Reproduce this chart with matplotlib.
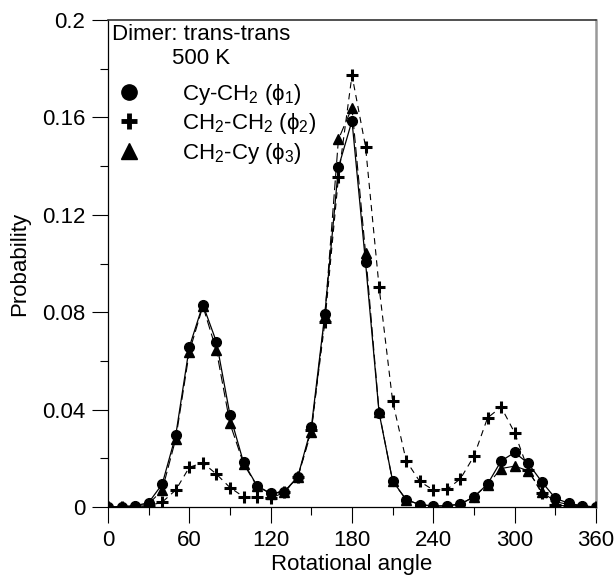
import numpy as np
import matplotlib
matplotlib.use("Agg")
import matplotlib.pyplot as plt
from matplotlib.lines import Line2D
from matplotlib.ticker import MultipleLocator

plt.rcParams['font.family'] = ['Liberation Sans', 'DejaVu Sans']
plt.rcParams['mathtext.fontset'] = 'custom'
plt.rcParams['mathtext.rm'] = 'Liberation Sans'
plt.rcParams['mathtext.it'] = 'Liberation Sans:italic'
plt.rcParams['lines.scale_dashes'] = False

# rotational angle (deg)
angle = np.arange(0, 361, 10)

# Cy-CH2 (phi1)
phi1 = [0.0, 0.0002, 0.0005, 0.0018, 0.0094, 0.0295, 0.0657, 0.0831, 0.0678, 0.0378,
        0.0183, 0.0087, 0.0056, 0.0063, 0.0124, 0.0327, 0.0794, 0.1395, 0.1586, 0.1005,
        0.0387, 0.0107, 0.003, 0.001, 0.0004, 0.0005, 0.0012, 0.0042, 0.0094, 0.0189,
        0.0224, 0.0179, 0.0104, 0.0036, 0.0015, 0.0005, 0.0]
# CH2-CH2 (phi2)
phi2 = [0.0, 0.0, 0.0, 0.0005, 0.002, 0.007, 0.0163, 0.0182, 0.0135, 0.008,
        0.0042, 0.0041, 0.0036, 0.006, 0.0122, 0.0318, 0.076, 0.1354, 0.1773, 0.148,
        0.0903, 0.0434, 0.019, 0.0105, 0.007, 0.0072, 0.0116, 0.0209, 0.0366, 0.0411,
        0.0305, 0.0152, 0.0056, 0.0008, 0.0004, 0.0, 0.0]
# CH2-Cy (phi3)
phi3 = [0.0, 0.0001, 0.0004, 0.0012, 0.007, 0.028, 0.0637, 0.0825, 0.0643, 0.0343,
        0.0178, 0.0085, 0.0055, 0.0062, 0.0122, 0.031, 0.0785, 0.151, 0.164, 0.1044,
        0.039, 0.0105, 0.003, 0.001, 0.0004, 0.0005, 0.0012, 0.0042, 0.0092, 0.0158,
        0.0168, 0.0149, 0.0063, 0.0022, 0.001, 0.0004, 0.0]

labels = ['Cy-CH$_2$ (\u03d5$_1$)', 'CH$_2$-CH$_2$ (\u03d5$_2$)', 'CH$_2$-Cy (\u03d5$_3$)']
xticks = [0, 60, 120, 180, 240, 300, 360]
yticks = [0, 0.04, 0.08, 0.12, 0.16, 0.2]
yticklabels = ['0', '0.04', '0.08', '0.12', '0.16', '0.2']

fig = plt.figure(figsize=(6.16, 5.78), dpi=100)
ax = fig.add_axes([0.1753, 0.1228, 0.7922, 0.8426])

ax.plot(angle, phi3, color='black', lw=0.8, dashes=(7, 3), marker='^', ms=6.5,
        mfc='black', mec='black', zorder=3)
ax.plot(angle, phi2, color='black', lw=0.8, dashes=(4.5, 3.5), marker='+', ms=8,
        mew=2.2, zorder=4)
ax.plot(angle, phi1, color='black', lw=0.9, marker='o', ms=7, zorder=5)

ax.set_xlim(0, 360)
ax.set_ylim(0, 0.2)
ax.set_xticks(xticks)
ax.set_yticks(yticks, yticklabels)
ax.xaxis.set_minor_locator(MultipleLocator(30))
ax.yaxis.set_minor_locator(MultipleLocator(0.02))
ax.tick_params(which='major', direction='out', length=11.5, width=0.8,
               labelsize=16, pad=5)
ax.tick_params(which='minor', direction='out', length=5.5, width=0.8)
ax.tick_params(top=False, right=False)

for s in ['left', 'bottom']:
    ax.spines[s].set_linewidth(0.9)
ax.spines['top'].set_color('#333333')
ax.spines['top'].set_linewidth(1.2)
ax.spines['right'].set_color('#999999')
ax.spines['right'].set_linewidth(1.8)

ax.set_xlabel('Rotational angle', fontsize=16, labelpad=2)
ax.set_ylabel('Probability', fontsize=16, labelpad=8)

ax.text(3, 0.1985, 'Dimer: trans-trans', fontsize=16, va='top', ha='left')
ax.text(47, 0.1885, '500 K', fontsize=16, va='top', ha='left')

handles = [Line2D([], [], ls='none', marker='o', color='black', ms=11),
           Line2D([], [], ls='none', marker='+', color='black', ms=12, mew=3.5),
           Line2D([], [], ls='none', marker='^', color='black', ms=11)]
ax.legend(handles, labels, loc='upper left', bbox_to_anchor=(-0.025, 0.905),
          frameon=False, fontsize=16, handlelength=1.6, handletextpad=1.6,
          labelspacing=0.2, borderaxespad=0.3)

fig.savefig('out.png', dpi=100)
